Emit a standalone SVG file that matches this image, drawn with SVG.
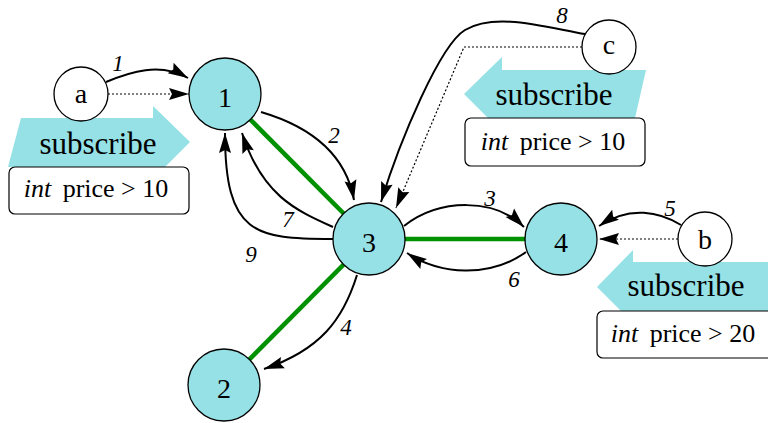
<svg xmlns="http://www.w3.org/2000/svg" width="768" height="423" viewBox="0 0 768 423">
<style>
  .bg { fill: #ffffff; }
  .node { fill: #95e1e5; stroke: #000; stroke-width: 1.3; }
  .src { fill: #ffffff; stroke: #000; stroke-width: 1.3; }
  .nlabel { font-family: "Liberation Serif", serif; font-size: 28px; text-anchor: middle; fill: #000; }
  .elabel { font-family: "Liberation Serif", serif; font-size: 23px; font-style: italic; text-anchor: middle; fill: #000; }
  .edge { fill: none; stroke: #000; stroke-width: 2; }
  .dot { fill: none; stroke: #000; stroke-width: 1.2; stroke-dasharray: 2 2; }
  .tree { fill: none; stroke: #009100; stroke-width: 4.5; }
  .sub { fill: #95e1e5; stroke: none; }
  .subtext { font-family: "Liberation Serif", serif; font-size: 31px; text-anchor: middle; fill: #000; }
  .box { fill: #ffffff; stroke: #000; stroke-width: 1.2; }
  .boxtext { font-family: "Liberation Serif", serif; font-size: 26px; text-anchor: middle; fill: #000; }
</style>
<defs>
  <marker id="ah" markerWidth="20" markerHeight="12" refX="20" refY="6" orient="auto" markerUnits="userSpaceOnUse" overflow="visible">
    <path d="M0,0 L20,6 L0,12 L3,6 z" fill="#000"/>
  </marker>
</defs>
<rect class="bg" x="0" y="0" width="768" height="423"/>

<g id="subscription-a">
  <polygon class="sub" points="21,118 153,118 153,106 190,142 165,167 8,167"/>
  <text class="subtext" x="98" y="154">subscribe</text>
  <rect class="box" x="9" y="167" width="180" height="47" rx="6" ry="6"/>
  <text class="boxtext" x="96" y="197"><tspan font-style="italic">int</tspan><tspan dx="5"> price &gt; 10</tspan></text>
</g>

<g id="subscription-c">
  <polygon class="sub" points="646,70 502,70 502,57 464,94 488,118 635,118"/>
  <text class="subtext" x="554" y="105">subscribe</text>
  <rect class="box" x="465" y="118" width="180" height="48" rx="6" ry="6"/>
  <text class="boxtext" x="553" y="150"><tspan font-style="italic">int</tspan><tspan dx="5"> price &gt; 10</tspan></text>
</g>

<g id="subscription-b">
  <polygon class="sub" points="780,262 633,262 633,250 597,287 621,311 780,311"/>
  <text class="subtext" x="686" y="296">subscribe</text>
  <rect class="box" x="597" y="311" width="185" height="47" rx="6" ry="6"/>
  <text class="boxtext" x="683" y="342"><tspan font-style="italic">int</tspan><tspan dx="5"> price &gt; 20</tspan></text>
</g>

<g id="connectors">
  <line class="tree" x1="225" y1="94" x2="369" y2="239"/>
  <line class="tree" x1="369" y1="239" x2="224" y2="385"/>
  <line class="tree" x1="369" y1="239" x2="561" y2="239"/>

  <path class="edge" marker-end="url(#ah)" d="M106,82 C130,72 160,62 188,78"/>
  <path class="dot" marker-end="url(#ah)" d="M108,94 L189,94"/>
  <path class="edge" marker-end="url(#ah)" d="M261,112 C305,125 345,150 354,200"/>
  <path class="edge" marker-end="url(#ah)" d="M333,227 C295,210 262,195 242,133"/>
  <path class="edge" marker-end="url(#ah)" d="M333,239 C255,239 225,235 225,133"/>
  <path class="edge" marker-end="url(#ah)" d="M357,275 C343,320 320,350 264,369"/>
  <path class="edge" marker-end="url(#ah)" d="M404,226 C440,198 495,198 524,227"/>
  <path class="edge" marker-end="url(#ah)" d="M526,252 C490,278 440,275 407,253"/>
  <path class="edge" marker-end="url(#ah)" d="M681,225 C660,212 630,205 599,226"/>
  <path class="dot" marker-end="url(#ah)" d="M678,239 L599,239"/>
  <path class="edge" marker-end="url(#ah)" d="M585,34 C545,27 495,12 465,30 C440,45 400,140 381,202"/>
  <path class="dot" marker-end="url(#ah)" d="M582,47 L464,47 L396,208"/>

  <text class="elabel" x="118" y="71">1</text>
  <text class="elabel" x="334" y="143">2</text>
  <text class="elabel" x="490" y="206">3</text>
  <text class="elabel" x="346" y="335">4</text>
  <text class="elabel" x="670" y="216">5</text>
  <text class="elabel" x="514" y="287">6</text>
  <text class="elabel" x="288" y="227">7</text>
  <text class="elabel" x="562" y="23">8</text>
  <text class="elabel" x="251" y="262">9</text>
</g>

<g id="node-a">
  <circle class="src" cx="81" cy="94" r="27"/>
  <text class="nlabel" x="81" y="103">a</text>
</g>
<g id="node-b">
  <circle class="src" cx="705" cy="239" r="27"/>
  <text class="nlabel" x="705" y="249">b</text>
</g>
<g id="node-c">
  <circle class="src" cx="609" cy="47" r="27"/>
  <text class="nlabel" x="609" y="54">c</text>
</g>
<g id="node-1">
  <circle class="node" cx="225" cy="94" r="36"/>
  <text class="nlabel" x="225" y="107">1</text>
</g>
<g id="node-2">
  <circle class="node" cx="224" cy="385" r="36"/>
  <text class="nlabel" x="224" y="398">2</text>
</g>
<g id="node-3">
  <circle class="node" cx="369" cy="239" r="36"/>
  <text class="nlabel" x="369" y="252">3</text>
</g>
<g id="node-4">
  <circle class="node" cx="561" cy="239" r="36"/>
  <text class="nlabel" x="561" y="252">4</text>
</g>
</svg>
